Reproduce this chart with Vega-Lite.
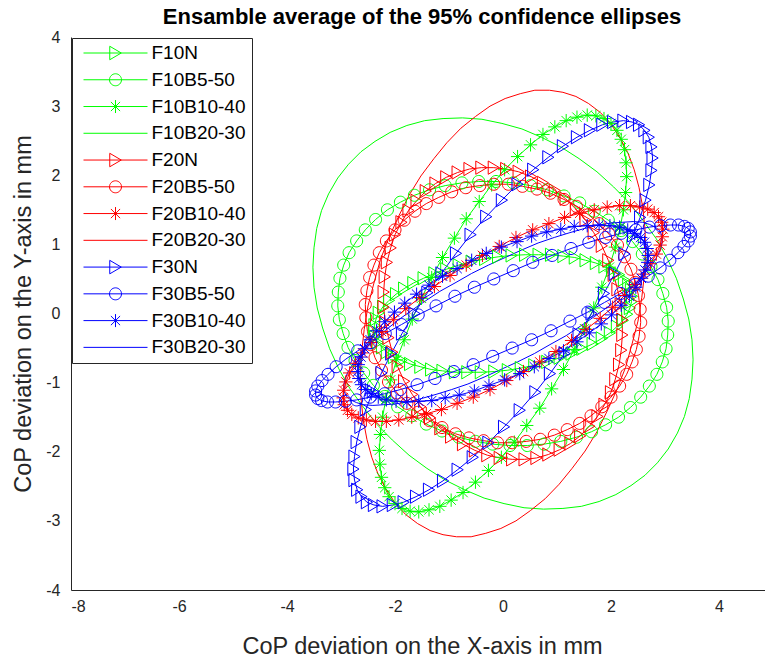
{
"$schema": "https://vega.github.io/schema/vega-lite/v6.json",
"width": 694, "height": 553,
"autosize": {"type": "none"},
"padding": {"left": 71, "top": 37, "right": 0, "bottom": 69},
"background": "white",
"title": {"text": "Ensamble average of the 95% confidence ellipses", "font": "Liberation Sans", "fontSize": 22, "fontWeight": "bold", "color": "#000000", "anchor": "middle", "offset": 0, "dx": 4},
"config": {
  "view": {"stroke": null},
  "axis": {"domainColor": "#262626", "domainWidth": 1, "ticks": false, "grid": false, "labelFont": "Liberation Sans", "labelFontSize": 16, "labelColor": "#262626", "labelExpr": "'' + datum.value", "titleFont": "Liberation Sans", "titleFontSize": 23.5, "titleFontWeight": "normal", "titleColor": "#262626"},
  "axisX": {"labelPadding": 8, "titlePadding": 20, "titleX": 351},
  "axisY": {"labelPadding": 11, "titlePadding": 10}
},
"data": {"values": [
{"s":"F10N","k":0,"x":2.39,"y":0.25},{"s":"F10N","k":1,"x":2.37,"y":0.34},{"s":"F10N","k":2,"x":2.32,"y":0.42},{"s":"F10N","k":3,"x":2.24,"y":0.49},{"s":"F10N","k":4,"x":2.15,"y":0.56},{"s":"F10N","k":5,"x":2.02,"y":0.63},{"s":"F10N","k":6,"x":1.88,"y":0.68},{"s":"F10N","k":7,"x":1.72,"y":0.73},{"s":"F10N","k":8,"x":1.53,"y":0.77},{"s":"F10N","k":9,"x":1.33,"y":0.81},{"s":"F10N","k":10,"x":1.12,"y":0.83},{"s":"F10N","k":11,"x":0.89,"y":0.85},{"s":"F10N","k":12,"x":0.66,"y":0.85},{"s":"F10N","k":13,"x":0.41,"y":0.85},{"s":"F10N","k":14,"x":0.16,"y":0.84},{"s":"F10N","k":15,"x":-0.09,"y":0.82},{"s":"F10N","k":16,"x":-0.33,"y":0.79},{"s":"F10N","k":17,"x":-0.58,"y":0.75},{"s":"F10N","k":18,"x":-0.82,"y":0.7},{"s":"F10N","k":19,"x":-1.05,"y":0.64},{"s":"F10N","k":20,"x":-1.27,"y":0.58},{"s":"F10N","k":21,"x":-1.47,"y":0.51},{"s":"F10N","k":22,"x":-1.66,"y":0.44},{"s":"F10N","k":23,"x":-1.83,"y":0.36},{"s":"F10N","k":24,"x":-1.98,"y":0.28},{"s":"F10N","k":25,"x":-2.11,"y":0.19},{"s":"F10N","k":26,"x":-2.22,"y":0.1},{"s":"F10N","k":27,"x":-2.3,"y":0.01},{"s":"F10N","k":28,"x":-2.35,"y":-0.08},{"s":"F10N","k":29,"x":-2.38,"y":-0.17},
{"s":"F10N","k":30,"x":-2.39,"y":-0.25},{"s":"F10N","k":31,"x":-2.37,"y":-0.34},{"s":"F10N","k":32,"x":-2.32,"y":-0.42},{"s":"F10N","k":33,"x":-2.24,"y":-0.49},{"s":"F10N","k":34,"x":-2.15,"y":-0.56},{"s":"F10N","k":35,"x":-2.02,"y":-0.63},{"s":"F10N","k":36,"x":-1.88,"y":-0.68},{"s":"F10N","k":37,"x":-1.72,"y":-0.73},{"s":"F10N","k":38,"x":-1.53,"y":-0.77},{"s":"F10N","k":39,"x":-1.33,"y":-0.81},{"s":"F10N","k":40,"x":-1.12,"y":-0.83},{"s":"F10N","k":41,"x":-0.89,"y":-0.85},{"s":"F10N","k":42,"x":-0.66,"y":-0.85},{"s":"F10N","k":43,"x":-0.41,"y":-0.85},{"s":"F10N","k":44,"x":-0.16,"y":-0.84},{"s":"F10N","k":45,"x":0.09,"y":-0.82},{"s":"F10N","k":46,"x":0.33,"y":-0.79},{"s":"F10N","k":47,"x":0.58,"y":-0.75},{"s":"F10N","k":48,"x":0.82,"y":-0.7},{"s":"F10N","k":49,"x":1.05,"y":-0.64},{"s":"F10N","k":50,"x":1.27,"y":-0.58},{"s":"F10N","k":51,"x":1.47,"y":-0.51},{"s":"F10N","k":52,"x":1.66,"y":-0.44},{"s":"F10N","k":53,"x":1.83,"y":-0.36},{"s":"F10N","k":54,"x":1.98,"y":-0.28},{"s":"F10N","k":55,"x":2.11,"y":-0.19},{"s":"F10N","k":56,"x":2.22,"y":-0.1},{"s":"F10N","k":57,"x":2.3,"y":-0.01},{"s":"F10N","k":58,"x":2.35,"y":0.08},{"s":"F10N","k":59,"x":2.38,"y":0.17},
{"s":"F10B5-50","k":0,"x":3.05,"y":-0.31},{"s":"F10B5-50","k":1,"x":3.06,"y":-0.11},{"s":"F10B5-50","k":2,"x":3.03,"y":0.09},{"s":"F10B5-50","k":3,"x":2.96,"y":0.29},{"s":"F10B5-50","k":4,"x":2.87,"y":0.49},{"s":"F10B5-50","k":5,"x":2.74,"y":0.68},{"s":"F10B5-50","k":6,"x":2.58,"y":0.86},{"s":"F10B5-50","k":7,"x":2.4,"y":1.04},{"s":"F10B5-50","k":8,"x":2.19,"y":1.2},{"s":"F10B5-50","k":9,"x":1.95,"y":1.35},{"s":"F10B5-50","k":10,"x":1.69,"y":1.48},{"s":"F10B5-50","k":11,"x":1.42,"y":1.6},{"s":"F10B5-50","k":12,"x":1.13,"y":1.7},{"s":"F10B5-50","k":13,"x":0.82,"y":1.79},{"s":"F10B5-50","k":14,"x":0.51,"y":1.85},{"s":"F10B5-50","k":15,"x":0.19,"y":1.89},{"s":"F10B5-50","k":16,"x":-0.13,"y":1.91},{"s":"F10B5-50","k":17,"x":-0.45,"y":1.91},{"s":"F10B5-50","k":18,"x":-0.76,"y":1.89},{"s":"F10B5-50","k":19,"x":-1.07,"y":1.85},{"s":"F10B5-50","k":20,"x":-1.36,"y":1.79},{"s":"F10B5-50","k":21,"x":-1.64,"y":1.71},{"s":"F10B5-50","k":22,"x":-1.9,"y":1.61},{"s":"F10B5-50","k":23,"x":-2.14,"y":1.5},{"s":"F10B5-50","k":24,"x":-2.36,"y":1.36},{"s":"F10B5-50","k":25,"x":-2.55,"y":1.21},{"s":"F10B5-50","k":26,"x":-2.71,"y":1.05},{"s":"F10B5-50","k":27,"x":-2.85,"y":0.88},{"s":"F10B5-50","k":28,"x":-2.95,"y":0.7},{"s":"F10B5-50","k":29,"x":-3.02,"y":0.51},
{"s":"F10B5-50","k":30,"x":-3.05,"y":0.31},{"s":"F10B5-50","k":31,"x":-3.06,"y":0.11},{"s":"F10B5-50","k":32,"x":-3.03,"y":-0.09},{"s":"F10B5-50","k":33,"x":-2.96,"y":-0.29},{"s":"F10B5-50","k":34,"x":-2.87,"y":-0.49},{"s":"F10B5-50","k":35,"x":-2.74,"y":-0.68},{"s":"F10B5-50","k":36,"x":-2.58,"y":-0.86},{"s":"F10B5-50","k":37,"x":-2.4,"y":-1.04},{"s":"F10B5-50","k":38,"x":-2.19,"y":-1.2},{"s":"F10B5-50","k":39,"x":-1.95,"y":-1.35},{"s":"F10B5-50","k":40,"x":-1.69,"y":-1.48},{"s":"F10B5-50","k":41,"x":-1.42,"y":-1.6},{"s":"F10B5-50","k":42,"x":-1.13,"y":-1.7},{"s":"F10B5-50","k":43,"x":-0.82,"y":-1.79},{"s":"F10B5-50","k":44,"x":-0.51,"y":-1.85},{"s":"F10B5-50","k":45,"x":-0.19,"y":-1.89},{"s":"F10B5-50","k":46,"x":0.13,"y":-1.91},{"s":"F10B5-50","k":47,"x":0.45,"y":-1.91},{"s":"F10B5-50","k":48,"x":0.76,"y":-1.89},{"s":"F10B5-50","k":49,"x":1.07,"y":-1.85},{"s":"F10B5-50","k":50,"x":1.36,"y":-1.79},{"s":"F10B5-50","k":51,"x":1.64,"y":-1.71},{"s":"F10B5-50","k":52,"x":1.9,"y":-1.61},{"s":"F10B5-50","k":53,"x":2.14,"y":-1.5},{"s":"F10B5-50","k":54,"x":2.36,"y":-1.36},{"s":"F10B5-50","k":55,"x":2.55,"y":-1.21},{"s":"F10B5-50","k":56,"x":2.71,"y":-1.05},{"s":"F10B5-50","k":57,"x":2.85,"y":-0.88},{"s":"F10B5-50","k":58,"x":2.95,"y":-0.7},{"s":"F10B5-50","k":59,"x":3.02,"y":-0.51},
{"s":"F10B10-40","k":0,"x":2.0,"y":2.75},{"s":"F10B10-40","k":1,"x":1.87,"y":2.82},{"s":"F10B10-40","k":2,"x":1.72,"y":2.86},{"s":"F10B10-40","k":3,"x":1.56,"y":2.87},{"s":"F10B10-40","k":4,"x":1.37,"y":2.84},{"s":"F10B10-40","k":5,"x":1.17,"y":2.79},{"s":"F10B10-40","k":6,"x":0.96,"y":2.7},{"s":"F10B10-40","k":7,"x":0.74,"y":2.59},{"s":"F10B10-40","k":8,"x":0.51,"y":2.44},{"s":"F10B10-40","k":9,"x":0.27,"y":2.27},{"s":"F10B10-40","k":10,"x":0.03,"y":2.08},{"s":"F10B10-40","k":11,"x":-0.21,"y":1.86},{"s":"F10B10-40","k":12,"x":-0.44,"y":1.62},{"s":"F10B10-40","k":13,"x":-0.68,"y":1.37},{"s":"F10B10-40","k":14,"x":-0.9,"y":1.09},{"s":"F10B10-40","k":15,"x":-1.12,"y":0.81},{"s":"F10B10-40","k":16,"x":-1.32,"y":0.52},{"s":"F10B10-40","k":17,"x":-1.51,"y":0.22},{"s":"F10B10-40","k":18,"x":-1.68,"y":-0.08},{"s":"F10B10-40","k":19,"x":-1.83,"y":-0.38},{"s":"F10B10-40","k":20,"x":-1.97,"y":-0.67},{"s":"F10B10-40","k":21,"x":-2.08,"y":-0.96},{"s":"F10B10-40","k":22,"x":-2.17,"y":-1.24},{"s":"F10B10-40","k":23,"x":-2.23,"y":-1.5},{"s":"F10B10-40","k":24,"x":-2.27,"y":-1.75},{"s":"F10B10-40","k":25,"x":-2.29,"y":-1.98},{"s":"F10B10-40","k":26,"x":-2.28,"y":-2.18},{"s":"F10B10-40","k":27,"x":-2.25,"y":-2.37},{"s":"F10B10-40","k":28,"x":-2.19,"y":-2.52},{"s":"F10B10-40","k":29,"x":-2.11,"y":-2.65},
{"s":"F10B10-40","k":30,"x":-2.0,"y":-2.75},{"s":"F10B10-40","k":31,"x":-1.87,"y":-2.82},{"s":"F10B10-40","k":32,"x":-1.72,"y":-2.86},{"s":"F10B10-40","k":33,"x":-1.56,"y":-2.87},{"s":"F10B10-40","k":34,"x":-1.37,"y":-2.84},{"s":"F10B10-40","k":35,"x":-1.17,"y":-2.79},{"s":"F10B10-40","k":36,"x":-0.96,"y":-2.7},{"s":"F10B10-40","k":37,"x":-0.74,"y":-2.59},{"s":"F10B10-40","k":38,"x":-0.51,"y":-2.44},{"s":"F10B10-40","k":39,"x":-0.27,"y":-2.27},{"s":"F10B10-40","k":40,"x":-0.03,"y":-2.08},{"s":"F10B10-40","k":41,"x":0.21,"y":-1.86},{"s":"F10B10-40","k":42,"x":0.44,"y":-1.62},{"s":"F10B10-40","k":43,"x":0.68,"y":-1.37},{"s":"F10B10-40","k":44,"x":0.9,"y":-1.09},{"s":"F10B10-40","k":45,"x":1.12,"y":-0.81},{"s":"F10B10-40","k":46,"x":1.32,"y":-0.52},{"s":"F10B10-40","k":47,"x":1.51,"y":-0.22},{"s":"F10B10-40","k":48,"x":1.68,"y":0.08},{"s":"F10B10-40","k":49,"x":1.83,"y":0.38},{"s":"F10B10-40","k":50,"x":1.97,"y":0.67},{"s":"F10B10-40","k":51,"x":2.08,"y":0.96},{"s":"F10B10-40","k":52,"x":2.17,"y":1.24},{"s":"F10B10-40","k":53,"x":2.23,"y":1.5},{"s":"F10B10-40","k":54,"x":2.27,"y":1.75},{"s":"F10B10-40","k":55,"x":2.29,"y":1.98},{"s":"F10B10-40","k":56,"x":2.28,"y":2.18},{"s":"F10B10-40","k":57,"x":2.25,"y":2.37},{"s":"F10B10-40","k":58,"x":2.19,"y":2.52},{"s":"F10B10-40","k":59,"x":2.11,"y":2.65},
{"s":"F10B20-30","k":0,"x":3.36,"y":-1.49},{"s":"F10B20-30","k":1,"x":3.45,"y":-1.23},{"s":"F10B20-30","k":2,"x":3.5,"y":-0.95},{"s":"F10B20-30","k":3,"x":3.52,"y":-0.67},{"s":"F10B20-30","k":4,"x":3.5,"y":-0.38},{"s":"F10B20-30","k":5,"x":3.44,"y":-0.08},{"s":"F10B20-30","k":6,"x":3.34,"y":0.21},{"s":"F10B20-30","k":7,"x":3.21,"y":0.51},{"s":"F10B20-30","k":8,"x":3.04,"y":0.8},{"s":"F10B20-30","k":9,"x":2.84,"y":1.08},{"s":"F10B20-30","k":10,"x":2.6,"y":1.34},{"s":"F10B20-30","k":11,"x":2.34,"y":1.6},{"s":"F10B20-30","k":12,"x":2.05,"y":1.83},{"s":"F10B20-30","k":13,"x":1.74,"y":2.05},{"s":"F10B20-30","k":14,"x":1.41,"y":2.24},{"s":"F10B20-30","k":15,"x":1.07,"y":2.41},{"s":"F10B20-30","k":16,"x":0.71,"y":2.55},{"s":"F10B20-30","k":17,"x":0.35,"y":2.67},{"s":"F10B20-30","k":18,"x":-0.02,"y":2.75},{"s":"F10B20-30","k":19,"x":-0.39,"y":2.81},{"s":"F10B20-30","k":20,"x":-0.75,"y":2.83},{"s":"F10B20-30","k":21,"x":-1.11,"y":2.82},{"s":"F10B20-30","k":22,"x":-1.45,"y":2.79},{"s":"F10B20-30","k":23,"x":-1.78,"y":2.72},{"s":"F10B20-30","k":24,"x":-2.09,"y":2.62},{"s":"F10B20-30","k":25,"x":-2.37,"y":2.49},{"s":"F10B20-30","k":26,"x":-2.63,"y":2.34},{"s":"F10B20-30","k":27,"x":-2.86,"y":2.16},{"s":"F10B20-30","k":28,"x":-3.06,"y":1.96},{"s":"F10B20-30","k":29,"x":-3.23,"y":1.73},
{"s":"F10B20-30","k":30,"x":-3.36,"y":1.49},{"s":"F10B20-30","k":31,"x":-3.45,"y":1.23},{"s":"F10B20-30","k":32,"x":-3.5,"y":0.95},{"s":"F10B20-30","k":33,"x":-3.52,"y":0.67},{"s":"F10B20-30","k":34,"x":-3.5,"y":0.38},{"s":"F10B20-30","k":35,"x":-3.44,"y":0.08},{"s":"F10B20-30","k":36,"x":-3.34,"y":-0.21},{"s":"F10B20-30","k":37,"x":-3.21,"y":-0.51},{"s":"F10B20-30","k":38,"x":-3.04,"y":-0.8},{"s":"F10B20-30","k":39,"x":-2.84,"y":-1.08},{"s":"F10B20-30","k":40,"x":-2.6,"y":-1.34},{"s":"F10B20-30","k":41,"x":-2.34,"y":-1.6},{"s":"F10B20-30","k":42,"x":-2.05,"y":-1.83},{"s":"F10B20-30","k":43,"x":-1.74,"y":-2.05},{"s":"F10B20-30","k":44,"x":-1.41,"y":-2.24},{"s":"F10B20-30","k":45,"x":-1.07,"y":-2.41},{"s":"F10B20-30","k":46,"x":-0.71,"y":-2.55},{"s":"F10B20-30","k":47,"x":-0.35,"y":-2.67},{"s":"F10B20-30","k":48,"x":0.02,"y":-2.75},{"s":"F10B20-30","k":49,"x":0.39,"y":-2.81},{"s":"F10B20-30","k":50,"x":0.75,"y":-2.83},{"s":"F10B20-30","k":51,"x":1.11,"y":-2.82},{"s":"F10B20-30","k":52,"x":1.45,"y":-2.79},{"s":"F10B20-30","k":53,"x":1.78,"y":-2.72},{"s":"F10B20-30","k":54,"x":2.09,"y":-2.62},{"s":"F10B20-30","k":55,"x":2.37,"y":-2.49},{"s":"F10B20-30","k":56,"x":2.63,"y":-2.34},{"s":"F10B20-30","k":57,"x":2.86,"y":-2.16},{"s":"F10B20-30","k":58,"x":3.06,"y":-1.96},{"s":"F10B20-30","k":59,"x":3.23,"y":-1.73},
{"s":"F20N","k":0,"x":1.88,"y":-1.32},{"s":"F20N","k":1,"x":2.0,"y":-1.14},{"s":"F20N","k":2,"x":2.08,"y":-0.95},{"s":"F20N","k":3,"x":2.15,"y":-0.74},{"s":"F20N","k":4,"x":2.19,"y":-0.53},{"s":"F20N","k":5,"x":2.21,"y":-0.31},{"s":"F20N","k":6,"x":2.21,"y":-0.09},{"s":"F20N","k":7,"x":2.18,"y":0.13},{"s":"F20N","k":8,"x":2.12,"y":0.35},{"s":"F20N","k":9,"x":2.05,"y":0.56},{"s":"F20N","k":10,"x":1.95,"y":0.77},{"s":"F20N","k":11,"x":1.83,"y":0.98},{"s":"F20N","k":12,"x":1.68,"y":1.17},{"s":"F20N","k":13,"x":1.53,"y":1.35},{"s":"F20N","k":14,"x":1.35,"y":1.51},{"s":"F20N","k":15,"x":1.16,"y":1.66},{"s":"F20N","k":16,"x":0.96,"y":1.78},{"s":"F20N","k":17,"x":0.74,"y":1.89},{"s":"F20N","k":18,"x":0.52,"y":1.98},{"s":"F20N","k":19,"x":0.29,"y":2.05},{"s":"F20N","k":20,"x":0.06,"y":2.09},{"s":"F20N","k":21,"x":-0.17,"y":2.11},{"s":"F20N","k":22,"x":-0.4,"y":2.11},{"s":"F20N","k":23,"x":-0.62,"y":2.09},{"s":"F20N","k":24,"x":-0.84,"y":2.04},{"s":"F20N","k":25,"x":-1.05,"y":1.97},{"s":"F20N","k":26,"x":-1.25,"y":1.88},{"s":"F20N","k":27,"x":-1.43,"y":1.77},{"s":"F20N","k":28,"x":-1.6,"y":1.63},{"s":"F20N","k":29,"x":-1.75,"y":1.49},
{"s":"F20N","k":30,"x":-1.88,"y":1.32},{"s":"F20N","k":31,"x":-2.0,"y":1.14},{"s":"F20N","k":32,"x":-2.08,"y":0.95},{"s":"F20N","k":33,"x":-2.15,"y":0.74},{"s":"F20N","k":34,"x":-2.19,"y":0.53},{"s":"F20N","k":35,"x":-2.21,"y":0.31},{"s":"F20N","k":36,"x":-2.21,"y":0.09},{"s":"F20N","k":37,"x":-2.18,"y":-0.13},{"s":"F20N","k":38,"x":-2.12,"y":-0.35},{"s":"F20N","k":39,"x":-2.05,"y":-0.56},{"s":"F20N","k":40,"x":-1.95,"y":-0.77},{"s":"F20N","k":41,"x":-1.83,"y":-0.98},{"s":"F20N","k":42,"x":-1.68,"y":-1.17},{"s":"F20N","k":43,"x":-1.53,"y":-1.35},{"s":"F20N","k":44,"x":-1.35,"y":-1.51},{"s":"F20N","k":45,"x":-1.16,"y":-1.66},{"s":"F20N","k":46,"x":-0.96,"y":-1.78},{"s":"F20N","k":47,"x":-0.74,"y":-1.89},{"s":"F20N","k":48,"x":-0.52,"y":-1.98},{"s":"F20N","k":49,"x":-0.29,"y":-2.05},{"s":"F20N","k":50,"x":-0.06,"y":-2.09},{"s":"F20N","k":51,"x":0.17,"y":-2.11},{"s":"F20N","k":52,"x":0.4,"y":-2.11},{"s":"F20N","k":53,"x":0.62,"y":-2.09},{"s":"F20N","k":54,"x":0.84,"y":-2.04},{"s":"F20N","k":55,"x":1.05,"y":-1.97},{"s":"F20N","k":56,"x":1.25,"y":-1.88},{"s":"F20N","k":57,"x":1.43,"y":-1.77},{"s":"F20N","k":58,"x":1.6,"y":-1.63},{"s":"F20N","k":59,"x":1.75,"y":-1.49},
{"s":"F20B5-50","k":0,"x":2.55,"y":-0.13},{"s":"F20B5-50","k":1,"x":2.54,"y":0.06},{"s":"F20B5-50","k":2,"x":2.51,"y":0.26},{"s":"F20B5-50","k":3,"x":2.45,"y":0.45},{"s":"F20B5-50","k":4,"x":2.37,"y":0.64},{"s":"F20B5-50","k":5,"x":2.25,"y":0.82},{"s":"F20B5-50","k":6,"x":2.12,"y":0.99},{"s":"F20B5-50","k":7,"x":1.96,"y":1.15},{"s":"F20B5-50","k":8,"x":1.78,"y":1.3},{"s":"F20B5-50","k":9,"x":1.58,"y":1.43},{"s":"F20B5-50","k":10,"x":1.36,"y":1.55},{"s":"F20B5-50","k":11,"x":1.13,"y":1.65},{"s":"F20B5-50","k":12,"x":0.88,"y":1.74},{"s":"F20B5-50","k":13,"x":0.63,"y":1.8},{"s":"F20B5-50","k":14,"x":0.36,"y":1.84},{"s":"F20B5-50","k":15,"x":0.1,"y":1.87},{"s":"F20B5-50","k":16,"x":-0.17,"y":1.87},{"s":"F20B5-50","k":17,"x":-0.43,"y":1.85},{"s":"F20B5-50","k":18,"x":-0.69,"y":1.82},{"s":"F20B5-50","k":19,"x":-0.95,"y":1.76},{"s":"F20B5-50","k":20,"x":-1.19,"y":1.68},{"s":"F20B5-50","k":21,"x":-1.42,"y":1.59},{"s":"F20B5-50","k":22,"x":-1.63,"y":1.48},{"s":"F20B5-50","k":23,"x":-1.83,"y":1.35},{"s":"F20B5-50","k":24,"x":-2.0,"y":1.21},{"s":"F20B5-50","k":25,"x":-2.16,"y":1.05},{"s":"F20B5-50","k":26,"x":-2.29,"y":0.88},{"s":"F20B5-50","k":27,"x":-2.39,"y":0.7},{"s":"F20B5-50","k":28,"x":-2.47,"y":0.52},{"s":"F20B5-50","k":29,"x":-2.52,"y":0.33},
{"s":"F20B5-50","k":30,"x":-2.55,"y":0.13},{"s":"F20B5-50","k":31,"x":-2.54,"y":-0.06},{"s":"F20B5-50","k":32,"x":-2.51,"y":-0.26},{"s":"F20B5-50","k":33,"x":-2.45,"y":-0.45},{"s":"F20B5-50","k":34,"x":-2.37,"y":-0.64},{"s":"F20B5-50","k":35,"x":-2.25,"y":-0.82},{"s":"F20B5-50","k":36,"x":-2.12,"y":-0.99},{"s":"F20B5-50","k":37,"x":-1.96,"y":-1.15},{"s":"F20B5-50","k":38,"x":-1.78,"y":-1.3},{"s":"F20B5-50","k":39,"x":-1.58,"y":-1.43},{"s":"F20B5-50","k":40,"x":-1.36,"y":-1.55},{"s":"F20B5-50","k":41,"x":-1.13,"y":-1.65},{"s":"F20B5-50","k":42,"x":-0.88,"y":-1.74},{"s":"F20B5-50","k":43,"x":-0.63,"y":-1.8},{"s":"F20B5-50","k":44,"x":-0.36,"y":-1.84},{"s":"F20B5-50","k":45,"x":-0.1,"y":-1.87},{"s":"F20B5-50","k":46,"x":0.17,"y":-1.87},{"s":"F20B5-50","k":47,"x":0.43,"y":-1.85},{"s":"F20B5-50","k":48,"x":0.69,"y":-1.82},{"s":"F20B5-50","k":49,"x":0.95,"y":-1.76},{"s":"F20B5-50","k":50,"x":1.19,"y":-1.68},{"s":"F20B5-50","k":51,"x":1.42,"y":-1.59},{"s":"F20B5-50","k":52,"x":1.63,"y":-1.48},{"s":"F20B5-50","k":53,"x":1.83,"y":-1.35},{"s":"F20B5-50","k":54,"x":2.0,"y":-1.21},{"s":"F20B5-50","k":55,"x":2.16,"y":-1.05},{"s":"F20B5-50","k":56,"x":2.29,"y":-0.88},{"s":"F20B5-50","k":57,"x":2.39,"y":-0.7},{"s":"F20B5-50","k":58,"x":2.47,"y":-0.52},{"s":"F20B5-50","k":59,"x":2.52,"y":-0.33},
{"s":"F20B10-40","k":0,"x":2.94,"y":1.32},{"s":"F20B10-40","k":1,"x":2.88,"y":1.4},{"s":"F20B10-40","k":2,"x":2.8,"y":1.46},{"s":"F20B10-40","k":3,"x":2.68,"y":1.51},{"s":"F20B10-40","k":4,"x":2.53,"y":1.54},{"s":"F20B10-40","k":5,"x":2.36,"y":1.56},{"s":"F20B10-40","k":6,"x":2.16,"y":1.56},{"s":"F20B10-40","k":7,"x":1.93,"y":1.54},{"s":"F20B10-40","k":8,"x":1.69,"y":1.5},{"s":"F20B10-40","k":9,"x":1.42,"y":1.45},{"s":"F20B10-40","k":10,"x":1.14,"y":1.39},{"s":"F20B10-40","k":11,"x":0.85,"y":1.3},{"s":"F20B10-40","k":12,"x":0.55,"y":1.21},{"s":"F20B10-40","k":13,"x":0.24,"y":1.1},{"s":"F20B10-40","k":14,"x":-0.07,"y":0.97},{"s":"F20B10-40","k":15,"x":-0.38,"y":0.84},{"s":"F20B10-40","k":16,"x":-0.68,"y":0.7},{"s":"F20B10-40","k":17,"x":-0.98,"y":0.55},{"s":"F20B10-40","k":18,"x":-1.27,"y":0.39},{"s":"F20B10-40","k":19,"x":-1.54,"y":0.23},{"s":"F20B10-40","k":20,"x":-1.8,"y":0.07},{"s":"F20B10-40","k":21,"x":-2.03,"y":-0.09},{"s":"F20B10-40","k":22,"x":-2.25,"y":-0.26},{"s":"F20B10-40","k":23,"x":-2.44,"y":-0.42},{"s":"F20B10-40","k":24,"x":-2.6,"y":-0.57},{"s":"F20B10-40","k":25,"x":-2.73,"y":-0.72},{"s":"F20B10-40","k":26,"x":-2.84,"y":-0.86},{"s":"F20B10-40","k":27,"x":-2.91,"y":-0.99},{"s":"F20B10-40","k":28,"x":-2.95,"y":-1.11},{"s":"F20B10-40","k":29,"x":-2.96,"y":-1.22},
{"s":"F20B10-40","k":30,"x":-2.94,"y":-1.32},{"s":"F20B10-40","k":31,"x":-2.88,"y":-1.4},{"s":"F20B10-40","k":32,"x":-2.8,"y":-1.46},{"s":"F20B10-40","k":33,"x":-2.68,"y":-1.51},{"s":"F20B10-40","k":34,"x":-2.53,"y":-1.54},{"s":"F20B10-40","k":35,"x":-2.36,"y":-1.56},{"s":"F20B10-40","k":36,"x":-2.16,"y":-1.56},{"s":"F20B10-40","k":37,"x":-1.93,"y":-1.54},{"s":"F20B10-40","k":38,"x":-1.69,"y":-1.5},{"s":"F20B10-40","k":39,"x":-1.42,"y":-1.45},{"s":"F20B10-40","k":40,"x":-1.14,"y":-1.39},{"s":"F20B10-40","k":41,"x":-0.85,"y":-1.3},{"s":"F20B10-40","k":42,"x":-0.55,"y":-1.21},{"s":"F20B10-40","k":43,"x":-0.24,"y":-1.1},{"s":"F20B10-40","k":44,"x":0.07,"y":-0.97},{"s":"F20B10-40","k":45,"x":0.38,"y":-0.84},{"s":"F20B10-40","k":46,"x":0.68,"y":-0.7},{"s":"F20B10-40","k":47,"x":0.98,"y":-0.55},{"s":"F20B10-40","k":48,"x":1.27,"y":-0.39},{"s":"F20B10-40","k":49,"x":1.54,"y":-0.23},{"s":"F20B10-40","k":50,"x":1.8,"y":-0.07},{"s":"F20B10-40","k":51,"x":2.03,"y":0.09},{"s":"F20B10-40","k":52,"x":2.25,"y":0.26},{"s":"F20B10-40","k":53,"x":2.44,"y":0.42},{"s":"F20B10-40","k":54,"x":2.6,"y":0.57},{"s":"F20B10-40","k":55,"x":2.73,"y":0.72},{"s":"F20B10-40","k":56,"x":2.84,"y":0.86},{"s":"F20B10-40","k":57,"x":2.91,"y":0.99},{"s":"F20B10-40","k":58,"x":2.95,"y":1.11},{"s":"F20B10-40","k":59,"x":2.96,"y":1.22},
{"s":"F20B20-30","k":0,"x":1.58,"y":3.04},{"s":"F20B20-30","k":1,"x":1.35,"y":3.14},{"s":"F20B20-30","k":2,"x":1.11,"y":3.2},{"s":"F20B20-30","k":3,"x":0.86,"y":3.23},{"s":"F20B20-30","k":4,"x":0.59,"y":3.23},{"s":"F20B20-30","k":5,"x":0.32,"y":3.18},{"s":"F20B20-30","k":6,"x":0.04,"y":3.11},{"s":"F20B20-30","k":7,"x":-0.24,"y":3.0},{"s":"F20B20-30","k":8,"x":-0.51,"y":2.85},{"s":"F20B20-30","k":9,"x":-0.78,"y":2.68},{"s":"F20B20-30","k":10,"x":-1.04,"y":2.47},{"s":"F20B20-30","k":11,"x":-1.28,"y":2.24},{"s":"F20B20-30","k":12,"x":-1.52,"y":1.99},{"s":"F20B20-30","k":13,"x":-1.74,"y":1.71},{"s":"F20B20-30","k":14,"x":-1.93,"y":1.41},{"s":"F20B20-30","k":15,"x":-2.11,"y":1.1},{"s":"F20B20-30","k":16,"x":-2.27,"y":0.78},{"s":"F20B20-30","k":17,"x":-2.39,"y":0.44},{"s":"F20B20-30","k":18,"x":-2.5,"y":0.11},{"s":"F20B20-30","k":19,"x":-2.57,"y":-0.23},{"s":"F20B20-30","k":20,"x":-2.62,"y":-0.57},{"s":"F20B20-30","k":21,"x":-2.64,"y":-0.9},{"s":"F20B20-30","k":22,"x":-2.63,"y":-1.22},{"s":"F20B20-30","k":23,"x":-2.59,"y":-1.53},{"s":"F20B20-30","k":24,"x":-2.52,"y":-1.82},{"s":"F20B20-30","k":25,"x":-2.43,"y":-2.08},{"s":"F20B20-30","k":26,"x":-2.31,"y":-2.33},{"s":"F20B20-30","k":27,"x":-2.16,"y":-2.55},{"s":"F20B20-30","k":28,"x":-1.99,"y":-2.75},{"s":"F20B20-30","k":29,"x":-1.8,"y":-2.91},
{"s":"F20B20-30","k":30,"x":-1.58,"y":-3.04},{"s":"F20B20-30","k":31,"x":-1.35,"y":-3.14},{"s":"F20B20-30","k":32,"x":-1.11,"y":-3.2},{"s":"F20B20-30","k":33,"x":-0.86,"y":-3.23},{"s":"F20B20-30","k":34,"x":-0.59,"y":-3.23},{"s":"F20B20-30","k":35,"x":-0.32,"y":-3.18},{"s":"F20B20-30","k":36,"x":-0.04,"y":-3.11},{"s":"F20B20-30","k":37,"x":0.24,"y":-3.0},{"s":"F20B20-30","k":38,"x":0.51,"y":-2.85},{"s":"F20B20-30","k":39,"x":0.78,"y":-2.68},{"s":"F20B20-30","k":40,"x":1.04,"y":-2.47},{"s":"F20B20-30","k":41,"x":1.28,"y":-2.24},{"s":"F20B20-30","k":42,"x":1.52,"y":-1.99},{"s":"F20B20-30","k":43,"x":1.74,"y":-1.71},{"s":"F20B20-30","k":44,"x":1.93,"y":-1.41},{"s":"F20B20-30","k":45,"x":2.11,"y":-1.1},{"s":"F20B20-30","k":46,"x":2.27,"y":-0.78},{"s":"F20B20-30","k":47,"x":2.39,"y":-0.44},{"s":"F20B20-30","k":48,"x":2.5,"y":-0.11},{"s":"F20B20-30","k":49,"x":2.57,"y":0.23},{"s":"F20B20-30","k":50,"x":2.62,"y":0.57},{"s":"F20B20-30","k":51,"x":2.64,"y":0.9},{"s":"F20B20-30","k":52,"x":2.63,"y":1.22},{"s":"F20B20-30","k":53,"x":2.59,"y":1.53},{"s":"F20B20-30","k":54,"x":2.52,"y":1.82},{"s":"F20B20-30","k":55,"x":2.43,"y":2.08},{"s":"F20B20-30","k":56,"x":2.31,"y":2.33},{"s":"F20B20-30","k":57,"x":2.16,"y":2.55},{"s":"F20B20-30","k":58,"x":1.99,"y":2.75},{"s":"F20B20-30","k":59,"x":1.8,"y":2.91},
{"s":"F30N","k":0,"x":2.62,"y":2.65},{"s":"F30N","k":1,"x":2.52,"y":2.73},{"s":"F30N","k":2,"x":2.39,"y":2.77},{"s":"F30N","k":3,"x":2.23,"y":2.79},{"s":"F30N","k":4,"x":2.04,"y":2.77},{"s":"F30N","k":5,"x":1.84,"y":2.73},{"s":"F30N","k":6,"x":1.61,"y":2.65},{"s":"F30N","k":7,"x":1.37,"y":2.55},{"s":"F30N","k":8,"x":1.11,"y":2.42},{"s":"F30N","k":9,"x":0.84,"y":2.26},{"s":"F30N","k":10,"x":0.56,"y":2.08},{"s":"F30N","k":11,"x":0.27,"y":1.87},{"s":"F30N","k":12,"x":-0.02,"y":1.64},{"s":"F30N","k":13,"x":-0.31,"y":1.4},{"s":"F30N","k":14,"x":-0.6,"y":1.14},{"s":"F30N","k":15,"x":-0.87,"y":0.87},{"s":"F30N","k":16,"x":-1.14,"y":0.58},{"s":"F30N","k":17,"x":-1.4,"y":0.3},{"s":"F30N","k":18,"x":-1.64,"y":0.0},{"s":"F30N","k":19,"x":-1.87,"y":-0.29},{"s":"F30N","k":20,"x":-2.07,"y":-0.58},{"s":"F30N","k":21,"x":-2.25,"y":-0.86},{"s":"F30N","k":22,"x":-2.41,"y":-1.13},{"s":"F30N","k":23,"x":-2.54,"y":-1.39},{"s":"F30N","k":24,"x":-2.64,"y":-1.64},{"s":"F30N","k":25,"x":-2.71,"y":-1.86},{"s":"F30N","k":26,"x":-2.75,"y":-2.07},{"s":"F30N","k":27,"x":-2.77,"y":-2.25},{"s":"F30N","k":28,"x":-2.75,"y":-2.41},{"s":"F30N","k":29,"x":-2.7,"y":-2.55},
{"s":"F30N","k":30,"x":-2.62,"y":-2.65},{"s":"F30N","k":31,"x":-2.52,"y":-2.73},{"s":"F30N","k":32,"x":-2.39,"y":-2.77},{"s":"F30N","k":33,"x":-2.23,"y":-2.79},{"s":"F30N","k":34,"x":-2.04,"y":-2.77},{"s":"F30N","k":35,"x":-1.84,"y":-2.73},{"s":"F30N","k":36,"x":-1.61,"y":-2.65},{"s":"F30N","k":37,"x":-1.37,"y":-2.55},{"s":"F30N","k":38,"x":-1.11,"y":-2.42},{"s":"F30N","k":39,"x":-0.84,"y":-2.26},{"s":"F30N","k":40,"x":-0.56,"y":-2.08},{"s":"F30N","k":41,"x":-0.27,"y":-1.87},{"s":"F30N","k":42,"x":0.02,"y":-1.64},{"s":"F30N","k":43,"x":0.31,"y":-1.4},{"s":"F30N","k":44,"x":0.6,"y":-1.14},{"s":"F30N","k":45,"x":0.87,"y":-0.87},{"s":"F30N","k":46,"x":1.14,"y":-0.58},{"s":"F30N","k":47,"x":1.4,"y":-0.3},{"s":"F30N","k":48,"x":1.64,"y":0.0},{"s":"F30N","k":49,"x":1.87,"y":0.29},{"s":"F30N","k":50,"x":2.07,"y":0.58},{"s":"F30N","k":51,"x":2.25,"y":0.86},{"s":"F30N","k":52,"x":2.41,"y":1.13},{"s":"F30N","k":53,"x":2.54,"y":1.39},{"s":"F30N","k":54,"x":2.64,"y":1.64},{"s":"F30N","k":55,"x":2.71,"y":1.86},{"s":"F30N","k":56,"x":2.75,"y":2.07},{"s":"F30N","k":57,"x":2.77,"y":2.25},{"s":"F30N","k":58,"x":2.75,"y":2.41},{"s":"F30N","k":59,"x":2.7,"y":2.55},
{"s":"F30B5-50","k":0,"x":3.47,"y":1.18},{"s":"F30B5-50","k":1,"x":3.43,"y":1.23},{"s":"F30B5-50","k":2,"x":3.36,"y":1.26},{"s":"F30B5-50","k":3,"x":3.25,"y":1.28},{"s":"F30B5-50","k":4,"x":3.1,"y":1.28},{"s":"F30B5-50","k":5,"x":2.92,"y":1.27},{"s":"F30B5-50","k":6,"x":2.71,"y":1.25},{"s":"F30B5-50","k":7,"x":2.46,"y":1.21},{"s":"F30B5-50","k":8,"x":2.19,"y":1.16},{"s":"F30B5-50","k":9,"x":1.9,"y":1.1},{"s":"F30B5-50","k":10,"x":1.59,"y":1.03},{"s":"F30B5-50","k":11,"x":1.26,"y":0.94},{"s":"F30B5-50","k":12,"x":0.91,"y":0.84},{"s":"F30B5-50","k":13,"x":0.55,"y":0.74},{"s":"F30B5-50","k":14,"x":0.19,"y":0.62},{"s":"F30B5-50","k":15,"x":-0.17,"y":0.5},{"s":"F30B5-50","k":16,"x":-0.53,"y":0.38},{"s":"F30B5-50","k":17,"x":-0.89,"y":0.25},{"s":"F30B5-50","k":18,"x":-1.24,"y":0.11},{"s":"F30B5-50","k":19,"x":-1.57,"y":-0.02},{"s":"F30B5-50","k":20,"x":-1.88,"y":-0.16},{"s":"F30B5-50","k":21,"x":-2.18,"y":-0.29},{"s":"F30B5-50","k":22,"x":-2.45,"y":-0.42},{"s":"F30B5-50","k":23,"x":-2.69,"y":-0.54},{"s":"F30B5-50","k":24,"x":-2.91,"y":-0.66},{"s":"F30B5-50","k":25,"x":-3.09,"y":-0.77},{"s":"F30B5-50","k":26,"x":-3.24,"y":-0.88},{"s":"F30B5-50","k":27,"x":-3.35,"y":-0.97},{"s":"F30B5-50","k":28,"x":-3.43,"y":-1.05},{"s":"F30B5-50","k":29,"x":-3.47,"y":-1.12},
{"s":"F30B5-50","k":30,"x":-3.47,"y":-1.18},{"s":"F30B5-50","k":31,"x":-3.43,"y":-1.23},{"s":"F30B5-50","k":32,"x":-3.36,"y":-1.26},{"s":"F30B5-50","k":33,"x":-3.25,"y":-1.28},{"s":"F30B5-50","k":34,"x":-3.1,"y":-1.28},{"s":"F30B5-50","k":35,"x":-2.92,"y":-1.27},{"s":"F30B5-50","k":36,"x":-2.71,"y":-1.25},{"s":"F30B5-50","k":37,"x":-2.46,"y":-1.21},{"s":"F30B5-50","k":38,"x":-2.19,"y":-1.16},{"s":"F30B5-50","k":39,"x":-1.9,"y":-1.1},{"s":"F30B5-50","k":40,"x":-1.59,"y":-1.03},{"s":"F30B5-50","k":41,"x":-1.26,"y":-0.94},{"s":"F30B5-50","k":42,"x":-0.91,"y":-0.84},{"s":"F30B5-50","k":43,"x":-0.55,"y":-0.74},{"s":"F30B5-50","k":44,"x":-0.19,"y":-0.62},{"s":"F30B5-50","k":45,"x":0.17,"y":-0.5},{"s":"F30B5-50","k":46,"x":0.53,"y":-0.38},{"s":"F30B5-50","k":47,"x":0.89,"y":-0.25},{"s":"F30B5-50","k":48,"x":1.24,"y":-0.11},{"s":"F30B5-50","k":49,"x":1.57,"y":0.02},{"s":"F30B5-50","k":50,"x":1.88,"y":0.16},{"s":"F30B5-50","k":51,"x":2.18,"y":0.29},{"s":"F30B5-50","k":52,"x":2.45,"y":0.42},{"s":"F30B5-50","k":53,"x":2.69,"y":0.54},{"s":"F30B5-50","k":54,"x":2.91,"y":0.66},{"s":"F30B5-50","k":55,"x":3.09,"y":0.77},{"s":"F30B5-50","k":56,"x":3.24,"y":0.88},{"s":"F30B5-50","k":57,"x":3.35,"y":0.97},{"s":"F30B5-50","k":58,"x":3.43,"y":1.05},{"s":"F30B5-50","k":59,"x":3.47,"y":1.12},
{"s":"F30B10-40","k":0,"x":2.67,"y":0.94},{"s":"F30B10-40","k":1,"x":2.62,"y":1.03},{"s":"F30B10-40","k":2,"x":2.55,"y":1.1},{"s":"F30B10-40","k":3,"x":2.44,"y":1.16},{"s":"F30B10-40","k":4,"x":2.31,"y":1.21},{"s":"F30B10-40","k":5,"x":2.16,"y":1.25},{"s":"F30B10-40","k":6,"x":1.98,"y":1.27},{"s":"F30B10-40","k":7,"x":1.78,"y":1.28},{"s":"F30B10-40","k":8,"x":1.56,"y":1.27},{"s":"F30B10-40","k":9,"x":1.32,"y":1.26},{"s":"F30B10-40","k":10,"x":1.07,"y":1.22},{"s":"F30B10-40","k":11,"x":0.81,"y":1.18},{"s":"F30B10-40","k":12,"x":0.53,"y":1.12},{"s":"F30B10-40","k":13,"x":0.26,"y":1.04},{"s":"F30B10-40","k":14,"x":-0.03,"y":0.96},{"s":"F30B10-40","k":15,"x":-0.31,"y":0.87},{"s":"F30B10-40","k":16,"x":-0.58,"y":0.77},{"s":"F30B10-40","k":17,"x":-0.85,"y":0.65},{"s":"F30B10-40","k":18,"x":-1.12,"y":0.54},{"s":"F30B10-40","k":19,"x":-1.37,"y":0.41},{"s":"F30B10-40","k":20,"x":-1.6,"y":0.28},{"s":"F30B10-40","k":21,"x":-1.82,"y":0.15},{"s":"F30B10-40","k":22,"x":-2.01,"y":0.02},{"s":"F30B10-40","k":23,"x":-2.19,"y":-0.12},{"s":"F30B10-40","k":24,"x":-2.34,"y":-0.25},{"s":"F30B10-40","k":25,"x":-2.46,"y":-0.38},{"s":"F30B10-40","k":26,"x":-2.56,"y":-0.51},{"s":"F30B10-40","k":27,"x":-2.63,"y":-0.63},{"s":"F30B10-40","k":28,"x":-2.68,"y":-0.74},{"s":"F30B10-40","k":29,"x":-2.69,"y":-0.84},
{"s":"F30B10-40","k":30,"x":-2.67,"y":-0.94},{"s":"F30B10-40","k":31,"x":-2.62,"y":-1.03},{"s":"F30B10-40","k":32,"x":-2.55,"y":-1.1},{"s":"F30B10-40","k":33,"x":-2.44,"y":-1.16},{"s":"F30B10-40","k":34,"x":-2.31,"y":-1.21},{"s":"F30B10-40","k":35,"x":-2.16,"y":-1.25},{"s":"F30B10-40","k":36,"x":-1.98,"y":-1.27},{"s":"F30B10-40","k":37,"x":-1.78,"y":-1.28},{"s":"F30B10-40","k":38,"x":-1.56,"y":-1.27},{"s":"F30B10-40","k":39,"x":-1.32,"y":-1.26},{"s":"F30B10-40","k":40,"x":-1.07,"y":-1.22},{"s":"F30B10-40","k":41,"x":-0.81,"y":-1.18},{"s":"F30B10-40","k":42,"x":-0.53,"y":-1.12},{"s":"F30B10-40","k":43,"x":-0.26,"y":-1.04},{"s":"F30B10-40","k":44,"x":0.03,"y":-0.96},{"s":"F30B10-40","k":45,"x":0.31,"y":-0.87},{"s":"F30B10-40","k":46,"x":0.58,"y":-0.77},{"s":"F30B10-40","k":47,"x":0.85,"y":-0.65},{"s":"F30B10-40","k":48,"x":1.12,"y":-0.54},{"s":"F30B10-40","k":49,"x":1.37,"y":-0.41},{"s":"F30B10-40","k":50,"x":1.6,"y":-0.28},{"s":"F30B10-40","k":51,"x":1.82,"y":-0.15},{"s":"F30B10-40","k":52,"x":2.01,"y":-0.02},{"s":"F30B10-40","k":53,"x":2.19,"y":0.12},{"s":"F30B10-40","k":54,"x":2.34,"y":0.25},{"s":"F30B10-40","k":55,"x":2.46,"y":0.38},{"s":"F30B10-40","k":56,"x":2.56,"y":0.51},{"s":"F30B10-40","k":57,"x":2.63,"y":0.63},{"s":"F30B10-40","k":58,"x":2.68,"y":0.74},{"s":"F30B10-40","k":59,"x":2.69,"y":0.84},
{"s":"F30B20-30","k":0,"x":2.94,"y":1.13},{"s":"F30B20-30","k":1,"x":2.9,"y":1.2},{"s":"F30B20-30","k":2,"x":2.82,"y":1.25},{"s":"F30B20-30","k":3,"x":2.71,"y":1.29},{"s":"F30B20-30","k":4,"x":2.58,"y":1.32},{"s":"F30B20-30","k":5,"x":2.41,"y":1.33},{"s":"F30B20-30","k":6,"x":2.22,"y":1.32},{"s":"F30B20-30","k":7,"x":2.01,"y":1.31},{"s":"F30B20-30","k":8,"x":1.77,"y":1.28},{"s":"F30B20-30","k":9,"x":1.51,"y":1.23},{"s":"F30B20-30","k":10,"x":1.24,"y":1.17},{"s":"F30B20-30","k":11,"x":0.95,"y":1.1},{"s":"F30B20-30","k":12,"x":0.65,"y":1.02},{"s":"F30B20-30","k":13,"x":0.35,"y":0.92},{"s":"F30B20-30","k":14,"x":0.04,"y":0.81},{"s":"F30B20-30","k":15,"x":-0.27,"y":0.7},{"s":"F30B20-30","k":16,"x":-0.58,"y":0.58},{"s":"F30B20-30","k":17,"x":-0.87,"y":0.45},{"s":"F30B20-30","k":18,"x":-1.17,"y":0.32},{"s":"F30B20-30","k":19,"x":-1.44,"y":0.18},{"s":"F30B20-30","k":20,"x":-1.7,"y":0.04},{"s":"F30B20-30","k":21,"x":-1.95,"y":-0.1},{"s":"F30B20-30","k":22,"x":-2.17,"y":-0.24},{"s":"F30B20-30","k":23,"x":-2.37,"y":-0.37},{"s":"F30B20-30","k":24,"x":-2.54,"y":-0.5},{"s":"F30B20-30","k":25,"x":-2.68,"y":-0.63},{"s":"F30B20-30","k":26,"x":-2.8,"y":-0.75},{"s":"F30B20-30","k":27,"x":-2.88,"y":-0.86},{"s":"F30B20-30","k":28,"x":-2.93,"y":-0.96},{"s":"F30B20-30","k":29,"x":-2.95,"y":-1.05},
{"s":"F30B20-30","k":30,"x":-2.94,"y":-1.13},{"s":"F30B20-30","k":31,"x":-2.9,"y":-1.2},{"s":"F30B20-30","k":32,"x":-2.82,"y":-1.25},{"s":"F30B20-30","k":33,"x":-2.71,"y":-1.29},{"s":"F30B20-30","k":34,"x":-2.58,"y":-1.32},{"s":"F30B20-30","k":35,"x":-2.41,"y":-1.33},{"s":"F30B20-30","k":36,"x":-2.22,"y":-1.32},{"s":"F30B20-30","k":37,"x":-2.01,"y":-1.31},{"s":"F30B20-30","k":38,"x":-1.77,"y":-1.28},{"s":"F30B20-30","k":39,"x":-1.51,"y":-1.23},{"s":"F30B20-30","k":40,"x":-1.24,"y":-1.17},{"s":"F30B20-30","k":41,"x":-0.95,"y":-1.1},{"s":"F30B20-30","k":42,"x":-0.65,"y":-1.02},{"s":"F30B20-30","k":43,"x":-0.35,"y":-0.92},{"s":"F30B20-30","k":44,"x":-0.04,"y":-0.81},{"s":"F30B20-30","k":45,"x":0.27,"y":-0.7},{"s":"F30B20-30","k":46,"x":0.58,"y":-0.58},{"s":"F30B20-30","k":47,"x":0.87,"y":-0.45},{"s":"F30B20-30","k":48,"x":1.17,"y":-0.32},{"s":"F30B20-30","k":49,"x":1.44,"y":-0.18},{"s":"F30B20-30","k":50,"x":1.7,"y":-0.04},{"s":"F30B20-30","k":51,"x":1.95,"y":0.1},{"s":"F30B20-30","k":52,"x":2.17,"y":0.24},{"s":"F30B20-30","k":53,"x":2.37,"y":0.37},{"s":"F30B20-30","k":54,"x":2.54,"y":0.5},{"s":"F30B20-30","k":55,"x":2.68,"y":0.63},{"s":"F30B20-30","k":56,"x":2.8,"y":0.75},{"s":"F30B20-30","k":57,"x":2.88,"y":0.86},{"s":"F30B20-30","k":58,"x":2.93,"y":0.96},{"s":"F30B20-30","k":59,"x":2.95,"y":1.05}
]},
"encoding": {
  "x": {"field": "x", "type": "quantitative", "scale": {"domain": [-8, 4.852], "nice": false, "zero": false}, "axis": {"values": [-8, -6, -4, -2, 0, 2, 4], "title": "CoP deviation on the X-axis in mm"}},
  "y": {"field": "y", "type": "quantitative", "scale": {"domain": [-4, 4], "nice": false, "zero": false}, "axis": {"values": [-4, -3, -2, -1, 0, 1, 2, 3, 4], "title": "CoP deviation on the Y-axis in mm"}}
},
"layer": [
  {
    "mark": {"type": "line", "interpolate": "linear-closed", "strokeWidth": 1, "clip": true},
    "encoding": {
      "color": {"field": "s", "type": "nominal", "scale": {"domain": ["F10N","F10B5-50","F10B10-40","F10B20-30","F20N","F20B5-50","F20B10-40","F20B20-30","F30N","F30B5-50","F30B10-40","F30B20-30"], "range": ["#00ff00","#00ff00","#00ff00","#00ff00","#ff0000","#ff0000","#ff0000","#ff0000","#0000ff","#0000ff","#0000ff","#0000ff"]}, "legend": null},
      "detail": {"field": "s"},
      "order": {"field": "k", "type": "quantitative"}
    }
  },
  {
    "transform": [{"filter": {"field": "s", "oneOf": ["F10N","F10B5-50","F10B10-40","F20N","F20B5-50","F20B10-40","F30N","F30B5-50","F30B10-40"]}}],
    "mark": {"type": "point", "filled": false, "size": 196, "strokeWidth": 1, "opacity": 1},
    "encoding": {
      "color": {"field": "s", "type": "nominal", "scale": {"domain": ["F10N","F10B5-50","F10B10-40","F10B20-30","F20N","F20B5-50","F20B10-40","F20B20-30","F30N","F30B5-50","F30B10-40","F30B20-30"], "range": ["#00ff00","#00ff00","#00ff00","#00ff00","#ff0000","#ff0000","#ff0000","#ff0000","#0000ff","#0000ff","#0000ff","#0000ff"]}, "legend": null},
      "shape": {"field": "s", "type": "nominal", "scale": {"domain": ["F10N","F10B5-50","F10B10-40","F20N","F20B5-50","F20B10-40","F30N","F30B5-50","F30B10-40"], "range": ["M0.8,0L-0.8,-0.95L-0.8,0.95Z","M0.86,0A0.86,0.86,0,1,1,-0.86,0A0.86,0.86,0,1,1,0.86,0Z","M0,-0.95L0,0.95M-0.95,0L0.95,0M-0.67,-0.67L0.67,0.67M-0.67,0.67L0.67,-0.67","M0.8,0L-0.8,-0.95L-0.8,0.95Z","M0.86,0A0.86,0.86,0,1,1,-0.86,0A0.86,0.86,0,1,1,0.86,0Z","M0,-0.95L0,0.95M-0.95,0L0.95,0M-0.67,-0.67L0.67,0.67M-0.67,0.67L0.67,-0.67","M0.8,0L-0.8,-0.95L-0.8,0.95Z","M0.86,0A0.86,0.86,0,1,1,-0.86,0A0.86,0.86,0,1,1,0.86,0Z","M0,-0.95L0,0.95M-0.95,0L0.95,0M-0.67,-0.67L0.67,0.67M-0.67,0.67L0.67,-0.67"]}, "legend": null}
    }
  },
  {
    "transform": [{"filter": "datum.k < 0"}],
    "mark": {"type": "point", "filled": false, "size": 100, "strokeWidth": 1, "opacity": 1},
    "encoding": {
      "color": {"field": "s", "type": "nominal", "scale": {"domain": ["F10N","F10B5-50","F10B10-40","F10B20-30","F20N","F20B5-50","F20B10-40","F20B20-30","F30N","F30B5-50","F30B10-40","F30B20-30"], "range": ["#00ff00","#00ff00","#00ff00","#00ff00","#ff0000","#ff0000","#ff0000","#ff0000","#0000ff","#0000ff","#0000ff","#0000ff"]},
        "legend": {"title": null, "orient": "none", "legendX": 1, "legendY": 1, "padding": 5.5, "symbolOffset": 28.5, "labelOffset": 26.5, "rowPadding": 6.76, "symbolSize": 100, "symbolStrokeWidth": 1, "strokeColor": "#262626", "fillColor": "white", "labelFont": "Liberation Sans", "labelFontSize": 19, "labelColor": "#000000", "labelLimit": 300}},
      "shape": {"field": "s", "type": "nominal", "scale": {"domain": ["F10N","F10B5-50","F10B10-40","F10B20-30","F20N","F20B5-50","F20B10-40","F20B20-30","F30N","F30B5-50","F30B10-40","F30B20-30"], "range": ["M-6.4,0L6.4,0M1.15,0L-1.15,-1.35L-1.15,1.35Z","M-6.4,0L6.4,0M1.2,0A1.2,1.2,0,1,1,-1.2,0A1.2,1.2,0,1,1,1.2,0Z","M-6.4,0L6.4,0M0,-1.3L0,1.3M-0.92,-0.92L0.92,0.92M-0.92,0.92L0.92,-0.92","M-6.4,0L6.4,0","M-6.4,0L6.4,0M1.15,0L-1.15,-1.35L-1.15,1.35Z","M-6.4,0L6.4,0M1.2,0A1.2,1.2,0,1,1,-1.2,0A1.2,1.2,0,1,1,1.2,0Z","M-6.4,0L6.4,0M0,-1.3L0,1.3M-0.92,-0.92L0.92,0.92M-0.92,0.92L0.92,-0.92","M-6.4,0L6.4,0","M-6.4,0L6.4,0M1.15,0L-1.15,-1.35L-1.15,1.35Z","M-6.4,0L6.4,0M1.2,0A1.2,1.2,0,1,1,-1.2,0A1.2,1.2,0,1,1,1.2,0Z","M-6.4,0L6.4,0M0,-1.3L0,1.3M-0.92,-0.92L0.92,0.92M-0.92,0.92L0.92,-0.92","M-6.4,0L6.4,0"]},
        "legend": {"title": null, "orient": "none", "legendX": 1, "legendY": 1, "padding": 5.5, "symbolOffset": 28.5, "labelOffset": 26.5, "rowPadding": 6.76, "symbolSize": 100, "symbolStrokeWidth": 1, "strokeColor": "#262626", "fillColor": "white", "labelFont": "Liberation Sans", "labelFontSize": 19, "labelColor": "#000000", "labelLimit": 300}}
    }
  }
],
"resolve": {"scale": {"color": "independent", "shape": "independent"}}
}
